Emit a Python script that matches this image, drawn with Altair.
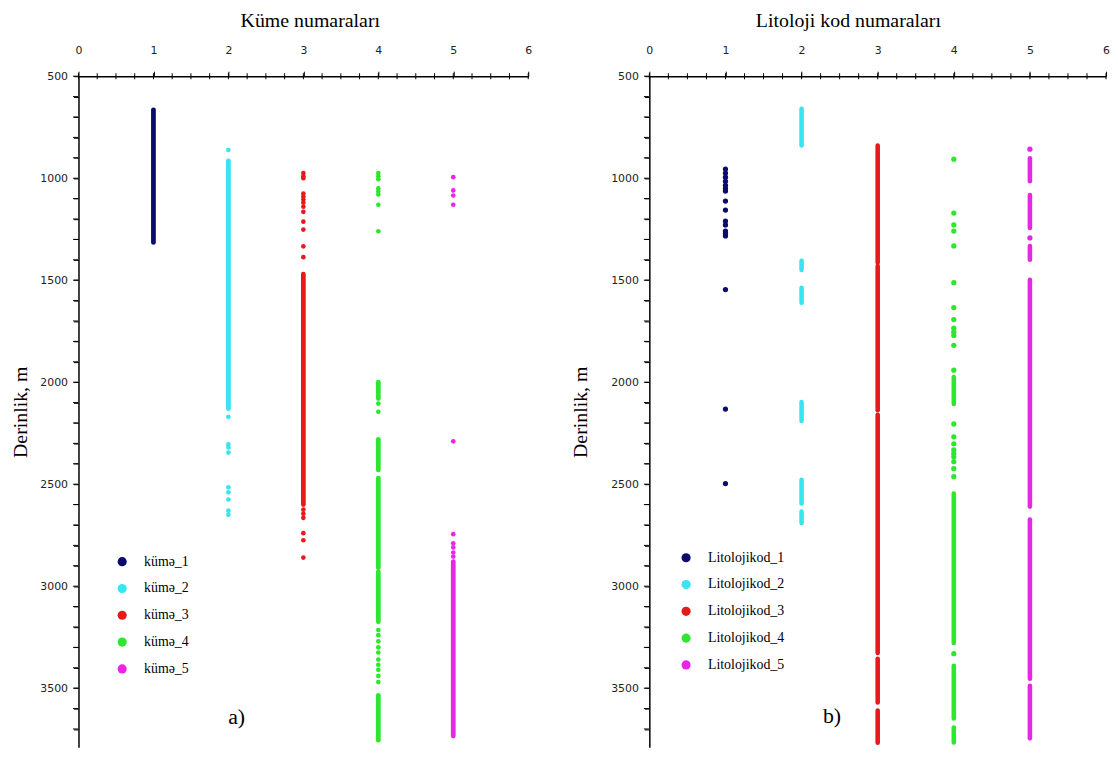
import altair as alt
import pandas as pd

# ---------------- axis values ----------------
x_ticks = [0, 0.25, 0.5, 0.75, 1, 1.25, 1.5, 1.75, 2, 2.25, 2.5, 2.75, 3, 3.25, 3.5, 3.75,
           4, 4.25, 4.5, 4.75, 5, 5.25, 5.5, 5.75, 6]
y_ticks = [500, 600, 700, 800, 900, 1000, 1100, 1200, 1300, 1400, 1500, 1600, 1700, 1800,
           1900, 2000, 2100, 2200, 2300, 2400, 2500, 2600, 2700, 2800, 2900, 3000, 3100,
           3200, 3300, 3400, 3500, 3600, 3700]
depth_domain = [500, 3790]
x_domain = [0, 6]

colors = ["#0b0b6e", "#38e4f0", "#e61a1a", "#2ee62e", "#e826e8"]

# ---------------- panel a) : küme ----------------
a_classes = ["kümə_1", "kümə_2", "kümə_3", "kümə_4", "kümə_5"]
a_codes = [1, 2, 3, 4, 5]
# dense depth intervals (start, end) and isolated sample depths
a1_run_start = [665]
a1_run_end = [1315]
a1_points = []

a2_run_start = [915]
a2_run_end = [2130]
a2_points = [862, 2170, 2305, 2320, 2345, 2515, 2540, 2575, 2630, 2650]

a3_run_start = [1470]
a3_run_end = [2600]
a3_points = [975, 990, 1000, 1075, 1090, 1105, 1120, 1140, 1165, 1213, 1252, 1334, 1387,
             2625, 2645, 2665, 2740, 2775, 2860]

a4_run_start = [2000, 2280, 2470, 2930, 3535]
a4_run_end = [2080, 2430, 2910, 3175, 3755]
a4_points = [975, 990, 1005, 1050, 1065, 1080, 1130, 1260, 2105, 2145, 3215, 3240, 3270,
             3300, 3325, 3360, 3385, 3410, 3440, 3470]

a5_run_start = [2880]
a5_run_end = [3735]
a5_points = [995, 1060, 1085, 1130, 2290, 2745, 2790, 2810, 2835, 2855]

# ---------------- panel b) : litoloji kod ----------------
b_classes = ["Litolojikod_1", "Litolojikod_2", "Litolojikod_3", "Litolojikod_4", "Litolojikod_5"]
b_codes = [1, 2, 3, 4, 5]

b1_run_start = []
b1_run_end = []
b1_points = [955, 975, 995, 1015, 1035, 1050, 1063, 1112, 1156, 1210, 1229, 1259, 1270,
             1283, 1546, 2132, 2497]

b2_run_start = [660, 1405, 1537, 2097, 2478, 2634]
b2_run_end = [840, 1450, 1610, 2190, 2595, 2690]
b2_points = []

b3_run_start = [840, 1430, 2160, 3356, 3610]
b3_run_end = [1415, 2137, 3327, 3570, 3768]
b3_points = []

b4_run_start = [1975, 2546, 3390, 3693]
b4_run_end = [2107, 3278, 3649, 3766]
b4_points = [907, 1171, 1229, 1259, 1332, 1512, 1634, 1693, 1735, 1755, 1771, 1819, 1941,
             2205, 2268, 2302, 2332, 2350, 2366, 2390, 2424, 2463, 3331]

b5_run_start = [902, 1083, 1332, 1498, 2673, 3488]
b5_run_end = [1015, 1244, 1400, 2610, 3454, 3746]
b5_points = [858, 1293]

# panel tags (data coordinates)
tag_text = ["a)", "b)"]
tag_x = [2.11, 2.40]
tag_depth = [3640, 3637]

SERIF = "Liberation Serif"
SANS = "DejaVu Sans"


def build_frames(classes, codes, run_starts, run_ends, points):
    runs, pts = [], []
    for cls, code, rs, re, ps in zip(classes, codes, run_starts, run_ends, points):
        for s, e in zip(rs, re):
            runs.append({"cls": cls, "x": code, "start": s, "end": e})
        for p in ps:
            pts.append({"cls": cls, "x": code, "depth": p})
    return (pd.DataFrame(runs, columns=["cls", "x", "start", "end"]),
            pd.DataFrame(pts, columns=["cls", "x", "depth"]))


def panel(classes, codes, run_starts, run_ends, points, title, title_x, y_title_pad,
          width, height, legend_x, legend_y, tag, tx, td, point_size, rule_w):
    runs_df, pts_df = build_frames(classes, codes, run_starts, run_ends, points)
    xs = alt.Scale(domain=x_domain, nice=False, zero=False)
    ys = alt.Scale(domain=depth_domain, reverse=True, nice=False, zero=False)
    cs = alt.Scale(domain=classes, range=colors)
    xaxis = alt.Axis(orient="top", values=x_ticks, format="d",
                     labelExpr="datum.value % 1 == 0 ? datum.label : ''",
                     title=title, titleFont=SERIF, titleFontSize=20,
                     titleFontWeight="normal", titleColor="black", titlePadding=14,
                     titleX=title_x,
                     labelFont=SANS, labelFontSize=11, labelColor="#222",
                     labelPadding=16, labelFlush=False, labelOverlap=False,
                     ticks=True, tickSize=5, tickColor="black", tickWidth=1, tickOpacity=1,
                     domainColor="black", domainWidth=1.5, grid=False)
    yaxis = alt.Axis(values=y_ticks, format="d",
                     labelExpr="datum.value % 500 == 0 ? datum.label : ''",
                     title="Derinlik, m", titleFont=SERIF, titleFontSize=20,
                     titleFontWeight="normal", titleColor="black", titlePadding=y_title_pad,
                     labelFont=SANS, labelFontSize=11, labelColor="#222",
                     labelPadding=6, labelOverlap=False,
                     ticks=True, tickSize=5, tickColor="black", tickWidth=1, tickOpacity=1,
                     domainColor="black", domainWidth=1.5, grid=False)
    legend = alt.Legend(orient="none", legendX=legend_x, legendY=legend_y, title=None,
                        symbolType="circle", symbolSize=85, symbolStrokeWidth=0,
                        labelFont=SERIF, labelFontSize=14, labelColor="black",
                        rowPadding=13, labelOffset=15, padding=0)
    pts = alt.Chart(pts_df).mark_circle(size=point_size, opacity=1).encode(
        x=alt.X("x:Q", scale=xs, axis=xaxis),
        y=alt.Y("depth:Q", scale=ys, axis=yaxis),
        color=alt.Color("cls:N", scale=cs, legend=legend),
    )
    rules = alt.Chart(runs_df).mark_rule(strokeWidth=rule_w, strokeCap="round", opacity=1).encode(
        x=alt.X("x:Q", scale=xs, axis=xaxis),
        y=alt.Y("start:Q", scale=ys, axis=yaxis),
        y2="end:Q",
        color=alt.Color("cls:N", scale=cs, legend=None),
    )
    # explicit tick marks drawn from the tick arrays (x ticks cross the top axis line,
    # y ticks sit to the left of the depth axis)
    xt = alt.Chart(pd.DataFrame({"v": x_ticks})).mark_tick(
        orient="vertical", size=6, thickness=1, color="black", opacity=1).encode(
        x=alt.X("v:Q", scale=xs, axis=xaxis), y=alt.value(0))
    yt = alt.Chart(pd.DataFrame({"v": y_ticks})).mark_tick(
        orient="horizontal", size=5, thickness=1, color="black", opacity=1).encode(
        y=alt.Y("v:Q", scale=ys, axis=yaxis), x=alt.value(-3))
    tag_df = pd.DataFrame({"t": [tag], "x": [tx], "d": [td]})
    text = alt.Chart(tag_df).mark_text(font=SERIF, fontSize=22, color="black").encode(
        x=alt.X("x:Q", scale=xs, axis=xaxis),
        y=alt.Y("d:Q", scale=ys, axis=yaxis),
        text="t:N",
    )
    return alt.layer(pts, rules, xt, yt, text).properties(width=width, height=height)


left = panel(a_classes, a_codes,
             [a1_run_start, a2_run_start, a3_run_start, a4_run_start, a5_run_start],
             [a1_run_end, a2_run_end, a3_run_end, a4_run_end, a5_run_end],
             [a1_points, a2_points, a3_points, a4_points, a5_points],
             "Küme numaraları", 233, 9, 453, 676, 37, 482, tag_text[0], tag_x[0], tag_depth[0],
             22, 4.8)

right = panel(b_classes, b_codes,
              [b1_run_start, b2_run_start, b3_run_start, b4_run_start, b5_run_start],
              [b1_run_end, b2_run_end, b3_run_end, b4_run_end, b5_run_end],
              [b1_points, b2_points, b3_points, b4_points, b5_points],
              "Litoloji kod numaraları", 200, 20, 460, 676, 30, 478, tag_text[1], tag_x[1], tag_depth[1],
              28, 4.6)

chart = alt.hconcat(left, right, spacing=39).resolve_scale(
    color="independent", x="independent", y="independent"
).resolve_legend(color="independent").properties(
    padding={"left": 3, "top": 0, "right": 0, "bottom": 0}, background="white"
).configure_view(stroke=None)

chart.save("out.html", embed_options={"renderer": "svg", "actions": False})
